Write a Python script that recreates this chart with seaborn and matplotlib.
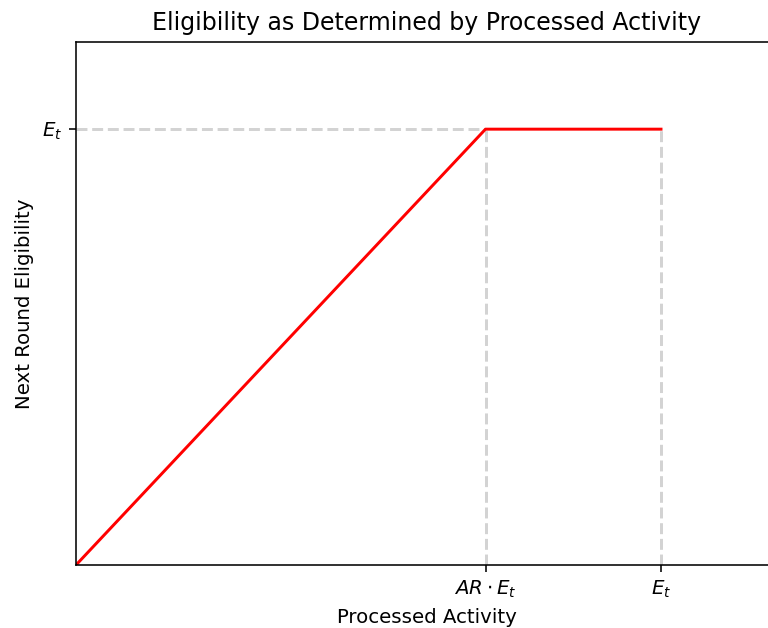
import matplotlib
matplotlib.use("Agg")
import matplotlib.pyplot as plt
import seaborn as sns
import pandas as pd

# Eligibility curve: rises linearly until AR*E_t, then stays flat at E_t
E_t = 1.0
AR = 0.7
activity = [0.0, AR * E_t, E_t]
eligibility = [0.0, E_t, E_t]
x_tick_labels = [r"$AR \cdot E_t$", r"$E_t$"]
y_tick_labels = [r"$E_t$"]

df = pd.DataFrame({"activity": activity, "eligibility": eligibility})

DPI = 142
fig = plt.figure(figsize=(768 / DPI, 628 / DPI), dpi=DPI)
ax = fig.add_axes([76 / 768, (628 - 565) / 628, (778 - 76) / 768, (565 - 42) / 628])

# guide lines
ax.hlines(E_t, 0, AR * E_t, colors="lightgray", linestyles="--", zorder=1)
ax.vlines([AR * E_t, E_t], 0, E_t, colors="lightgray", linestyles="--", zorder=1)

sns.lineplot(data=df, x="activity", y="eligibility", color="red",
             ax=ax, zorder=2, estimator=None, sort=False)

ax.set_xlim(0, 1.2 * E_t)
ax.set_ylim(0, 1.2 * E_t)
ax.set_xticks([AR * E_t, E_t])
ax.set_xticklabels(x_tick_labels)
ax.set_yticks([E_t])
ax.set_yticklabels(y_tick_labels)

ax.set_xlabel("Processed Activity")
ax.set_ylabel("Next Round Eligibility")
ax.set_title("Eligibility as Determined by Processed Activity")

fig.savefig("out.png", dpi=DPI)
